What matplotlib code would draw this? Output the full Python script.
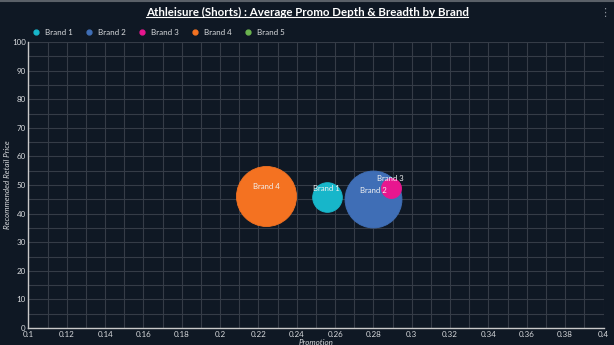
import numpy as np
import matplotlib
matplotlib.use('Agg')
import matplotlib.pyplot as plt
from matplotlib.ticker import MultipleLocator, FuncFormatter
from matplotlib.lines import Line2D

# ---- data ----
brands      = ['Brand 1', 'Brand 2', 'Brand 3', 'Brand 4', 'Brand 5']
promo_depth = [0.2555, 0.280, 0.289, 0.224, np.nan]   # x : promotion
rrp         = [45.8, 45.0, 49.0, 46.2, np.nan]          # y : recommended retail price
breadth     = [0.22, 0.81, 0.10, 0.90, np.nan]          # bubble size
colors      = ['#17b6ca', '#3f6eb6', '#e8168f', '#f47221', '#6bb44f']

bg     = '#0f1824'
gridc  = '#353c47'
txtc   = '#d8dadd'

plt.rcParams['font.family'] = ['Lato', 'DejaVu Sans']

fig = plt.figure(figsize=(6.14, 3.45), dpi=100)
fig.patch.set_facecolor(bg)
ax = fig.add_axes([0.0464, 0.049, 0.9365, 0.829])
ax.set_facecolor(bg)

size_k = 2074.
for name, x, y, b, c in zip(brands, promo_depth, rrp, breadth, colors):
    if np.isnan(x):
        continue
    ax.scatter(x, y, s=b * size_k, color=c, edgecolors=c, linewidths=0.6, zorder=3)
    ax.annotate(name, (x, y), xytext=(0, 6.5), textcoords='offset points',
                ha='center', va='center', color='#f2f2f2', fontsize=5.6, zorder=4)

ax.set_xlim(0.1, 0.4)
ax.set_ylim(0, 100)
ax.xaxis.set_major_locator(MultipleLocator(0.02))
ax.xaxis.set_minor_locator(MultipleLocator(0.01))
ax.yaxis.set_major_locator(MultipleLocator(10))
ax.yaxis.set_minor_locator(MultipleLocator(5))
ax.xaxis.set_major_formatter(FuncFormatter(lambda v, p: ('%.2f' % v).rstrip('0').rstrip('.')))
ax.grid(which='both', color=gridc, linewidth=0.8, zorder=0)
ax.tick_params(which='both', length=0, colors=txtc, labelsize=5.8, pad=2)
for s in ['top', 'right']:
    ax.spines[s].set_visible(False)
for s in ['left', 'bottom']:
    ax.spines[s].set_color('#c8c8c8')
    ax.spines[s].set_linewidth(1.0)

ax.set_xlabel('Promotion', color=txtc, fontsize=5.8, style='italic', labelpad=1)
fig.text(7.5 / 614, 0.464, 'Recommended Retail Price', rotation=90, ha='center', va='center',
         color=txtc, fontsize=5.8, style='italic')

# legend along the top
handles = [Line2D([], [], marker='o', linestyle='', markersize=3.5, color=c) for c in colors]
fig.legend(handles, brands, loc='center left', bbox_to_anchor=(0.04, 0.905), ncol=5,
           frameon=False, fontsize=5.8, labelcolor=txtc, handletextpad=0.6,
           columnspacing=1.55, handlelength=1.0)

# title with underline
title = fig.text(0.5, 0.965, 'Athleisure (Shorts) : Average Promo Depth & Breadth by Brand',
                 ha='center', va='center', color='white', fontsize=8.3, fontweight='bold')
fig.canvas.draw()
bb = title.get_window_extent().transformed(fig.transFigure.inverted())
fig.add_artist(Line2D([bb.x0, bb.x1], [bb.y0 + 0.002, bb.y0 + 0.002],
                      transform=fig.transFigure, color='white', linewidth=0.8))

fig.text(0.985, 0.965, '\u22ee', ha='center', va='center', color='#8a9099', fontsize=8)
fig.add_artist(Line2D([0, 1], [0.997, 0.997], transform=fig.transFigure,
                      color='#5a6068', linewidth=1.5))

fig.savefig('out.png', dpi=100, facecolor=bg)
